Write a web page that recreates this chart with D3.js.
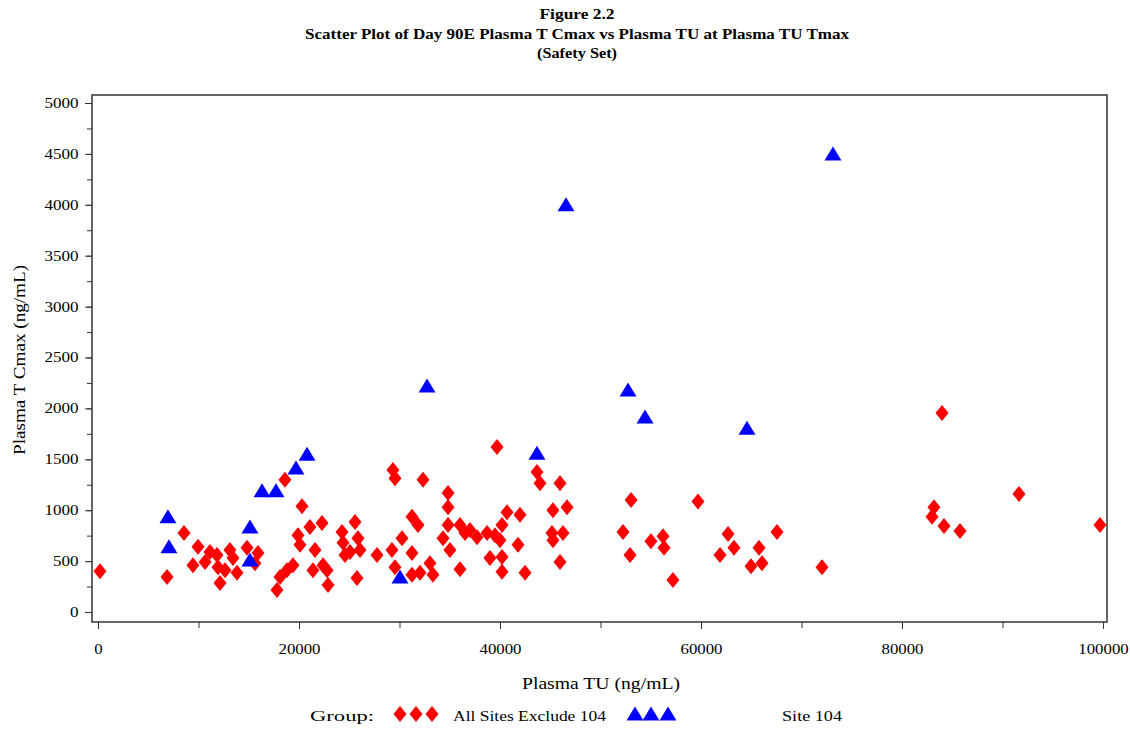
<!DOCTYPE html>
<html>
<head>
<meta charset="utf-8">
<script src="https://cdn.jsdelivr.net/npm/d3@7"></script>
<style>
  html, body { margin: 0; padding: 0; background: #fff; }
  svg { display: block; }
  text { font-family: "Liberation Serif", "DejaVu Serif", serif; fill: #000; }
</style>
</head>
<body>
<svg id="chart" width="1130" height="730"></svg>
<script>
// ---- Data ----
const titleLines = ["Figure 2.2", "Scatter Plot of Day 90E Plasma T Cmax vs Plasma TU at Plasma TU Tmax", "(Safety Set)"];
const xLabel = "Plasma TU (ng/mL)";
const yLabel = "Plasma T Cmax (ng/mL)";
const groupNames = ["All Sites Exclude 104", "Site 104"];
const xTickValues = [0, 20000, 40000, 60000, 80000, 100000];
const yTickValues = [0, 500, 1000, 1500, 2000, 2500, 3000, 3500, 4000, 4500, 5000];

// All Sites Exclude 104: Plasma TU and Plasma T Cmax
const allSitesTU = [
  200, 6870, 8560, 9450, 9950, 10650, 11140, 11840, 11940, 12140, 12640, 13130, 13430, 13830, 14830, 15920, 15620,
  17810, 18110, 18800, 19400, 18600, 20300, 19900, 20100, 21090, 22290, 21590, 21390, 22390, 22790, 22890,
  24280, 24380, 24580, 25570, 25870, 26070, 25075, 25770, 27760, 29350, 29550, 32340, 34830, 34830, 31240, 31840,
  29250, 30250, 31240, 29550, 31240, 32040, 33030, 33330, 34330, 34830, 35020, 36020, 39700, 43680, 43980, 45970,
  45270, 46670, 40700, 41990, 40200, 36020, 37010, 36520, 37710, 38710, 39500, 40000, 41790, 45170, 46270, 45270,
  39000, 40200, 40200, 42490, 45970, 53040, 59700, 52240, 52940, 55020, 56220, 56320, 57210, 62690, 63280, 61890,
  65770, 64975, 66070, 67560, 72040, 83980, 83180, 82985, 84180, 85770, 91640, 99700
];
const allSitesCmax = [
  400, 345, 775, 460, 640, 490, 590, 560, 440, 285, 410, 610, 530, 385, 630, 580, 480,
  215, 345, 410, 460, 1300, 1040, 755, 660, 835, 875, 610, 410, 460, 410, 265,
  785, 680, 560, 885, 725, 610, 590, 335, 560, 1395, 1315, 1300, 1170, 1030, 935, 855,
  610, 725, 580, 440, 365, 385, 480, 365, 725, 855, 610, 420, 1620, 1375, 1265, 1265,
  1000, 1030, 980, 955, 855, 855, 805, 775, 735, 775, 755, 705, 660, 775, 775, 705,
  530, 540, 395, 385, 490, 1100, 1085, 785, 560, 695, 745, 630, 315, 765, 630, 560,
  630, 450, 480, 785, 440, 1955, 1030, 935, 845, 795, 1160, 855
];

// Site 104: Plasma TU and Plasma T Cmax
const site104TU = [6960, 7060, 15120, 15120, 16320, 17710, 19700, 20800, 30050, 32740, 43680, 46570, 52740, 54430, 64580, 73130];
const site104Cmax = [935, 640, 835, 510, 1190, 1190, 1415, 1550, 345, 2220, 1560, 4000, 2180, 1915, 1805, 4500];

// ---- Layout ----
const svg = d3.select("#chart");
const frame = { left: 92, top: 95, right: 1107, bottom: 622 };
const x = d3.scaleLinear().domain([0, 100000]).range([98, 1103]);
const y = d3.scaleLinear().domain([0, 5000]).range([612, 103]);
const RED = "#ff0000", BLUE = "#0000ff";
const diamondPath = "M0,-8L6.5,0L0,8L-6.5,0Z";
const trianglePath = "M0,-7.5L8.5,6.5L-8.5,6.5Z";

// Title
const titleWidths = [75, 544, 80];
const titleY = [19, 39, 58];
svg.selectAll("text.title").data(titleLines).enter().append("text")
  .attr("class", "title")
  .attr("x", 577).attr("y", (d, i) => titleY[i])
  .attr("text-anchor", "middle")
  .attr("font-size", 15).attr("font-weight", "bold")
  .attr("textLength", (d, i) => titleWidths[i])
  .attr("lengthAdjust", "spacingAndGlyphs")
  .text(d => d);

// Frame
svg.append("rect")
  .attr("x", frame.left).attr("y", frame.top)
  .attr("width", frame.right - frame.left).attr("height", frame.bottom - frame.top)
  .attr("fill", "none").attr("stroke", "#333").attr("stroke-width", 1.5);

// Y axis (minor + major ticks)
svg.append("g").attr("transform", `translate(${frame.left},0)`)
  .call(d3.axisLeft(y).tickValues(d3.range(0, 5001, 250)).tickSize(5).tickFormat(""))
  .call(g => g.select(".domain").remove())
  .call(g => g.selectAll("line").attr("stroke", "#333"));
svg.append("g").attr("transform", `translate(${frame.left},0)`)
  .call(d3.axisLeft(y).tickValues(yTickValues).tickSize(7).tickPadding(4).tickFormat(d3.format("d")))
  .call(g => g.select(".domain").remove())
  .call(g => g.selectAll("line").attr("stroke", "#333"))
  .call(g => g.selectAll("text")
    .attr("font-size", 14).attr("fill", "#000")
    .attr("transform", "scale(1.22,1)"));

// X axis (minor + major ticks)
svg.append("g").attr("transform", `translate(0,${frame.bottom})`)
  .call(d3.axisBottom(x).tickValues(d3.range(0, 100001, 10000)).tickSize(6).tickFormat(""))
  .call(g => g.select(".domain").remove())
  .call(g => g.selectAll("line").attr("stroke", "#333"));
svg.append("g").attr("transform", `translate(0,${frame.bottom})`)
  .call(d3.axisBottom(x).tickValues(xTickValues).tickSize(7).tickPadding(15).tickFormat(d3.format("d")))
  .call(g => g.select(".domain").remove())
  .call(g => g.selectAll("line").attr("stroke", "#333"))
  .call(g => g.selectAll("text")
    .attr("font-size", 14).attr("fill", "#000")
    .attr("transform", "scale(1.2,1)"));

// Axis labels
svg.append("text")
  .attr("x", 601).attr("y", 689)
  .attr("text-anchor", "middle").attr("font-size", 17)
  .attr("textLength", 158).attr("lengthAdjust", "spacingAndGlyphs")
  .text(xLabel);
svg.append("text")
  .attr("transform", "translate(25,360) rotate(-90)")
  .attr("text-anchor", "middle").attr("font-size", 17)
  .attr("textLength", 190).attr("lengthAdjust", "spacingAndGlyphs")
  .text(yLabel);

// Points
const redData = allSitesTU.map((v, i) => [v, allSitesCmax[i]]);
const blueData = site104TU.map((v, i) => [v, site104Cmax[i]]);
svg.append("g").selectAll("path").data(redData).enter().append("path")
  .attr("d", diamondPath)
  .attr("transform", d => `translate(${x(d[0])},${y(d[1])})`)
  .attr("fill", RED);
svg.append("g").selectAll("path").data(blueData).enter().append("path")
  .attr("d", trianglePath)
  .attr("transform", d => `translate(${x(d[0])},${y(d[1])})`)
  .attr("fill", BLUE);

// Legend
const legY = 714;
svg.append("text").attr("x", 310).attr("y", 721).attr("font-size", 15)
  .attr("textLength", 64).attr("lengthAdjust", "spacingAndGlyphs").text("Group:");
svg.append("g").selectAll("path").data([400, 416, 432]).enter().append("path")
  .attr("d", diamondPath).attr("transform", d => `translate(${d},${legY})`).attr("fill", RED);
svg.append("text").attr("x", 453).attr("y", 721).attr("font-size", 15)
  .attr("textLength", 153).attr("lengthAdjust", "spacingAndGlyphs").text(groupNames[0]);
svg.append("g").selectAll("path").data([635, 651, 668]).enter().append("path")
  .attr("d", trianglePath).attr("transform", d => `translate(${d},${legY})`).attr("fill", BLUE);
svg.append("text").attr("x", 782).attr("y", 721).attr("font-size", 15)
  .attr("textLength", 60).attr("lengthAdjust", "spacingAndGlyphs").text(groupNames[1]);
</script>
</body>
</html>
